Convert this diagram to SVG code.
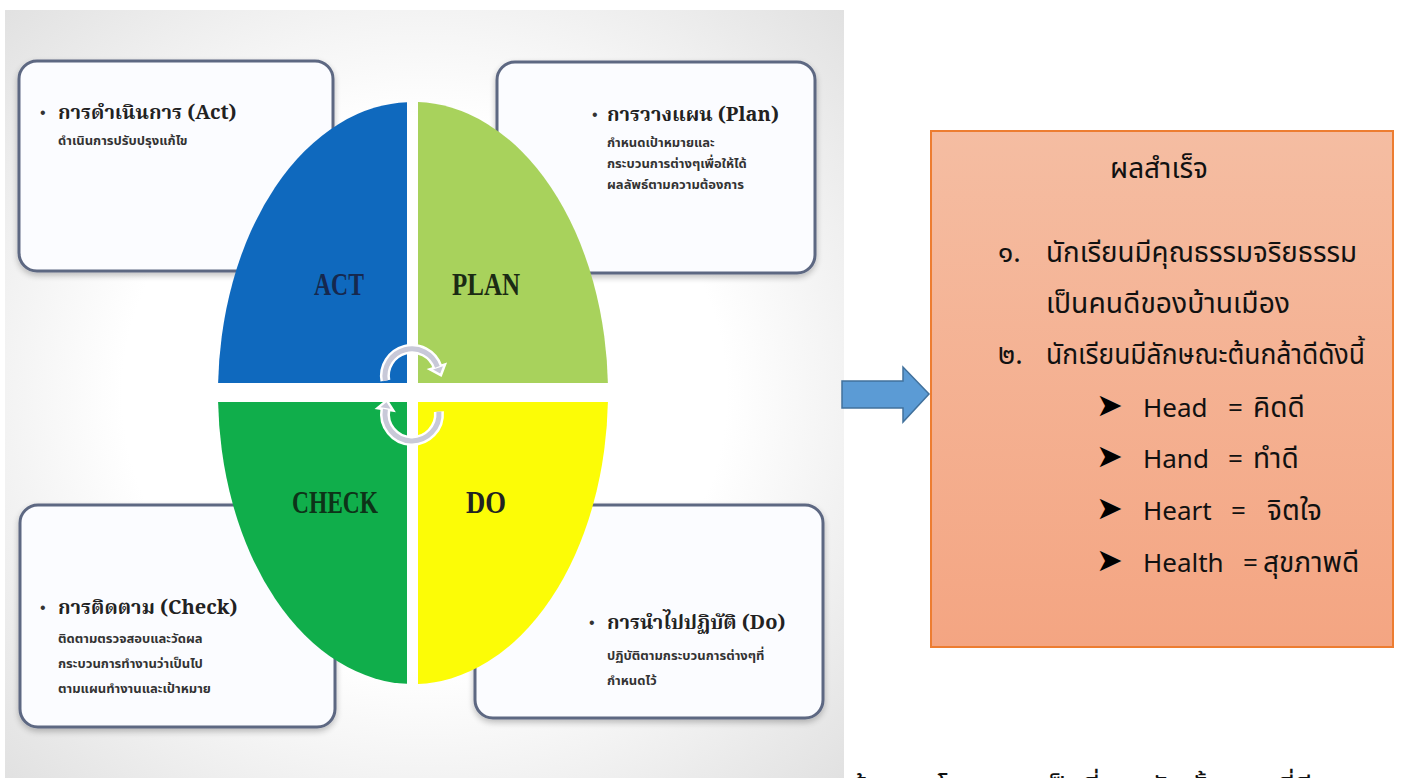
<svg xmlns="http://www.w3.org/2000/svg" width="1401" height="778" viewBox="0 0 1401 778">
<defs>
<style>
.box{fill:#fbfcff;stroke:#5d6782;stroke-width:3}
.hd{font-family:"Noto Serif Thai","Noto Sans Thai","Liberation Serif",serif;font-weight:bold;font-size:20px;fill:#222}
.sb{font-family:"Noto Sans Thai","Liberation Sans",sans-serif;font-weight:bold;font-size:13px;fill:#333}
.bul{font-family:"Liberation Sans",sans-serif;font-size:16px;fill:#333}
.q{font-family:"Liberation Serif",serif;font-weight:bold;font-size:31px;text-anchor:middle}
.rt{font-family:"Noto Sans Thai","Noto Sans","DejaVu Sans",sans-serif;font-size:28px;fill:#111}
.lt{font-family:"Noto Sans","DejaVu Sans",sans-serif;font-size:26px;fill:#111}
.ar{font-family:"DejaVu Sans",sans-serif;font-size:32px;fill:#000}
.cyc{fill:none;stroke:#ffffff;stroke-width:10}
.cyi{fill:none;stroke:#c8c9d8;stroke-width:5}
</style>
<radialGradient id="bg" cx="0.5" cy="0.5" r="0.72">
<stop offset="0.5" stop-color="#ffffff"/>
<stop offset="1" stop-color="#e0e0e0"/>
</radialGradient>
<linearGradient id="rg" x1="0" y1="0" x2="0" y2="1">
<stop offset="0" stop-color="#f5bda2"/>
<stop offset="1" stop-color="#f4a582"/>
</linearGradient>
<filter id="sh" x="-10%" y="-10%" width="120%" height="125%">
<feGaussianBlur in="SourceAlpha" stdDeviation="3"/>
<feOffset dx="0" dy="3" result="b"/>
<feComponentTransfer><feFuncA type="linear" slope="0.25"/></feComponentTransfer>
<feMerge><feMergeNode/><feMergeNode in="SourceGraphic"/></feMerge>
</filter>
<ellipse id="el" cx="413" cy="393" rx="195" ry="291"/>
<clipPath id="cA"><rect x="0" y="0" width="407" height="383"/></clipPath>
<clipPath id="cP"><rect x="418" y="0" width="400" height="383"/></clipPath>
<clipPath id="cC"><rect x="0" y="402" width="407" height="400"/></clipPath>
<clipPath id="cD"><rect x="418" y="402" width="400" height="400"/></clipPath>
</defs>
<rect width="1401" height="778" fill="#ffffff"/>
<rect x="5" y="10" width="839" height="768" fill="url(#bg)"/>

<g id="node-act-box">
<rect class="box" x="19" y="61" width="314" height="210" rx="18" filter="url(#sh)"/>
<text class="bul" x="40" y="118">•</text>
<text class="hd" x="58" y="119">การดำเนินการ (Act)</text>
<text class="sb" x="58" y="145">ดำเนินการปรับปรุงแก้ไข</text>
</g>
<g id="node-plan-box">
<rect class="box" x="497" y="62" width="318" height="211" rx="18" filter="url(#sh)"/>
<text class="bul" x="592" y="120">•</text>
<text class="hd" x="607" y="121">การวางแผน (Plan)</text>
<text class="sb" x="607" y="147">กำหนดเป้าหมายและ</text>
<text class="sb" x="607" y="168">กระบวนการต่างๆเพื่อให้ได้</text>
<text class="sb" x="607" y="189">ผลลัพธ์ตามความต้องการ</text>
</g>
<g id="node-check-box">
<rect class="box" x="20" y="505" width="315" height="222" rx="18" filter="url(#sh)"/>
<text class="bul" x="40" y="613">•</text>
<text class="hd" x="58" y="614">การติดตาม (Check)</text>
<text class="sb" x="58" y="643">ติดตามตรวจสอบและวัดผล</text>
<text class="sb" x="58" y="668">กระบวนการทำงานว่าเป็นไป</text>
<text class="sb" x="58" y="693">ตามแผนทำงานและเป้าหมาย</text>
</g>
<g id="node-do-box">
<rect class="box" x="475" y="505" width="348" height="213" rx="18" filter="url(#sh)"/>
<text class="bul" x="589" y="628">•</text>
<text class="hd" x="607" y="629">การนำไปปฏิบัติ (Do)</text>
<text class="sb" x="607" y="660">ปฏิบัติตามกระบวนการต่างๆที่</text>
<text class="sb" x="607" y="685">กำหนดไว้</text>
</g>

<g id="node-cycle">
<use href="#el" fill="#0f69be" clip-path="url(#cA)"/>
<use href="#el" fill="#a8d25c" clip-path="url(#cP)"/>
<use href="#el" fill="#10ae4b" clip-path="url(#cC)"/>
<use href="#el" fill="#fcfc06" clip-path="url(#cD)"/>
<text class="q" x="339" y="295" fill="#16284e" textLength="50" lengthAdjust="spacingAndGlyphs">ACT</text>
<text class="q" x="486" y="295" fill="#1b2a14" textLength="68" lengthAdjust="spacingAndGlyphs">PLAN</text>
<text class="q" x="335" y="513" fill="#0d3318" textLength="86" lengthAdjust="spacingAndGlyphs">CHECK</text>
<text class="q" x="486" y="513" fill="#222222" textLength="40" lengthAdjust="spacingAndGlyphs">DO</text>
<path class="cyc" d="M385.4 380.7 A27 27 0 0 1 437.4 366.8"/>
<path class="cyc" d="M438.9 411.6 A27 27 0 1 1 385.4 409.3"/>
<polygon points="440.9,375.3 445,364.4 429.8,369.2" fill="#c8c9d8" stroke="#fff" stroke-width="2.5"/>
<polygon points="386.8,400.4 377.5,408.1 393.3,410.5" fill="#c8c9d8" stroke="#fff" stroke-width="2.5"/>
<path class="cyi" d="M385.4 380.7 A27 27 0 0 1 437.4 366.8"/>
<path class="cyi" d="M438.9 411.6 A27 27 0 1 1 385.4 409.3"/>
</g>

<g id="connectors">
<polygon points="842,381 903,381 903,367 929,394 903,422 903,408 842,408" fill="#5b9bd5" stroke="#41719c" stroke-width="1.5"/>
</g>

<g id="node-result">
<rect x="931" y="131" width="462" height="516" fill="url(#rg)" stroke="#ed7d31" stroke-width="2"/>
<text class="rt" x="1110" y="178" textLength="98" lengthAdjust="spacingAndGlyphs">ผลสำเร็จ</text>
<text class="rt" x="998" y="262">๑.</text>
<text class="rt" x="1046" y="262" textLength="311" lengthAdjust="spacingAndGlyphs">นักเรียนมีคุณธรรมจริยธรรม</text>
<text class="rt" x="1046" y="313" textLength="244" lengthAdjust="spacingAndGlyphs">เป็นคนดีของบ้านเมือง</text>
<text class="rt" x="998" y="364">๒.</text>
<text class="rt" x="1046" y="364" textLength="319" lengthAdjust="spacingAndGlyphs">นักเรียนมีลักษณะต้นกล้าดีดังนี้</text>
<text class="ar" x="1096" y="416">➤</text>
<text class="lt" x="1143" y="417">Head</text><text class="lt" x="1228" y="417">=</text><text class="rt" x="1253" y="417">คิดดี</text>
<text class="ar" x="1096" y="467">➤</text>
<text class="lt" x="1143" y="468">Hand</text><text class="lt" x="1228" y="468">=</text><text class="rt" x="1253" y="468">ทำดี</text>
<text class="ar" x="1096" y="519">➤</text>
<text class="lt" x="1143" y="520">Heart</text><text class="lt" x="1231" y="520">=</text><text class="rt" x="1267" y="520">จิตใจ</text>
<text class="ar" x="1096" y="571">➤</text>
<text class="lt" x="1143" y="572">Health</text><text class="lt" x="1243" y="572">=</text><text class="rt" x="1263" y="572">สุขภาพดี</text>
</g>

<text class="rt" x="850" y="797">ด้านการโครงการ เป็นที่ยอมรับ ทั้งหมด ที่ดี</text>
</svg>
